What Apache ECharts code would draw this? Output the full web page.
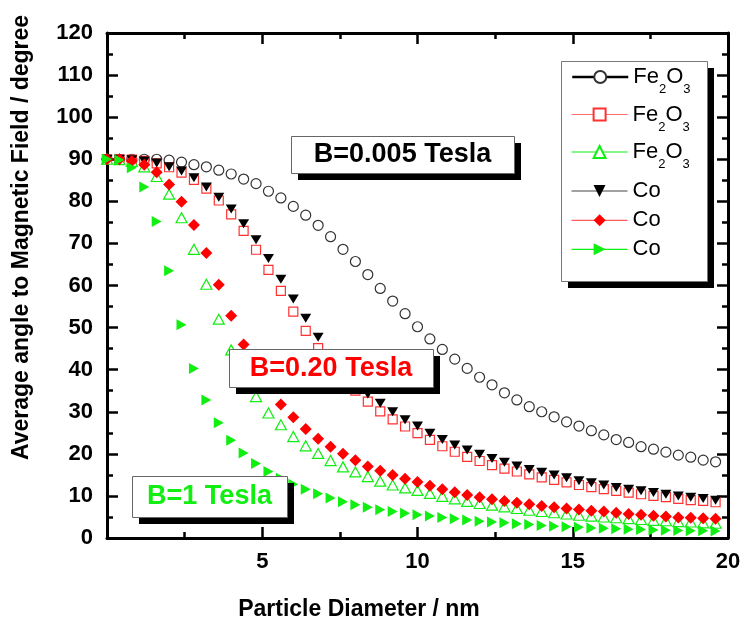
<!DOCTYPE html>
<html>
<head>
<meta charset="utf-8">
<script src="https://cdn.jsdelivr.net/npm/echarts@6/dist/echarts.min.js"></script>
<style>
html,body{margin:0;padding:0;background:#fff;}
#c{width:744px;height:624px;}
</style>
</head>
<body>
<div id="c"></div>
<script>
// ---- data ----
const diameters = [0,0.4,0.8,1.2,1.6,2,2.4,2.8,3.2,3.6,4,4.4,4.8,5.2,5.6,6,6.4,6.8,7.2,7.6,8,8.4,8.8,9.2,9.6,10,10.4,10.8,11.2,11.6,12,12.4,12.8,13.2,13.6,14,14.4,14.8,15.2,15.6,16,16.4,16.8,17.2,17.6,18,18.4,18.8,19.2,19.6];

const fe2o3_B0005 = [90,90,90,90,90,89.8,89.3,88.7,88.2,87.4,86.5,85.3,84.2,82.4,80.8,78.8,76.7,74.3,71.6,68.6,65.7,62.6,59.3,56.3,53.3,50.2,47.3,44.8,42.5,40.3,38.2,36.4,34.5,32.8,31.2,30.0,28.8,27.6,26.6,25.5,24.5,23.4,22.7,21.7,21.1,20.4,19.7,19.2,18.5,18.1];
const fe2o3_B020 = [90,90,89.9,89.6,89.0,88.1,86.8,85.1,83.0,80.2,76.9,73.0,68.5,63.7,58.7,53.8,49.2,45.1,41.3,37.9,35.0,32.4,30.1,28.2,26.5,24.9,23.3,21.8,20.5,19.3,18.3,17.3,16.5,15.8,15.1,14.4,13.8,13.2,12.6,12.1,11.6,11.2,10.8,10.4,10.0,9.7,9.3,9.0,8.8,8.5];
const fe2o3_B1 = [90,89.9,89.5,88.2,85.9,81.7,76.1,68.6,60.3,52.0,44.7,38.6,33.6,29.7,26.9,24.1,21.9,20.1,18.4,16.9,15.7,14.6,13.5,12.6,11.9,11.3,10.6,9.9,9.3,8.7,8.2,7.8,7.4,7.0,6.6,6.3,6.0,5.7,5.4,5.2,5.0,4.8,4.6,4.4,4.2,4.1,3.9,3.8,3.6,3.5];
const co_B0005 = [90,90,89.9,89.6,89.1,88.2,87.2,85.6,83.4,81.0,78.2,74.7,70.9,66.4,61.5,56.8,52.2,47.7,43.8,40.2,37.0,34.2,32.0,30.0,28.1,26.6,24.9,23.4,22.1,20.9,19.9,18.9,18.0,17.1,16.3,15.6,15.0,14.3,13.6,13.1,12.6,12.0,11.6,11.2,10.8,10.4,10.0,9.7,9.4,9.0];
const co_B020 = [90,90,89.6,88.7,86.9,84.0,79.9,74.4,67.7,60.2,52.8,46.0,40.2,35.6,31.7,28.7,25.9,23.6,21.7,20.0,18.5,17.0,16.0,15.0,14.1,13.3,12.4,11.6,10.9,10.2,9.7,9.2,8.8,8.4,8.0,7.6,7.3,7.0,6.8,6.5,6.3,6.0,5.7,5.5,5.3,5.1,4.9,4.8,4.7,4.6];
const co_B1 = [90,89.8,88.0,83.4,75.2,63.5,50.7,40.3,32.8,27.4,23.2,20.2,17.7,15.8,14.2,12.8,11.6,10.5,9.5,8.6,7.9,7.3,6.7,6.3,5.9,5.5,5.2,4.9,4.6,4.3,4.0,3.8,3.6,3.4,3.2,3.0,2.8,2.7,2.55,2.4,2.3,2.2,2.1,2.0,1.9,1.85,1.8,1.75,1.7,1.65];

const seriesNames = ['Fe2O3 B=0.005','Fe2O3 B=0.20','Fe2O3 B=1','Co B=0.005','Co B=0.20','Co B=1'];
const legendLabels = ['{m|Fe}{s|2}{m|O}{s|3}','{m|Fe}{s|2}{m|O}{s|3}','{m|Fe}{s|2}{m|O}{s|3}','{m|Co}','{m|Co}','{m|Co}'];
const xTitle = 'Particle Diameter / nm';
const yTitle = 'Average angle to Magnetic Field / degree';
const notes = ['B=0.005 Tesla','B=0.20 Tesla','B=1 Tesla'];

// ---- styling ----
const FONT = '"Liberation Sans", Arial, Helvetica, sans-serif';
const RED = '#ff0000', GREEN = '#11ee11', BLACK = '#000000';
const allY = [fe2o3_B0005, fe2o3_B020, fe2o3_B1, co_B0005, co_B020, co_B1];
const styles = [
  {symbol:'circle', size:10, item:{color:'#fff', borderColor:'#333', borderWidth:1.2}, col:'#000', legLine:{width:2.5, color:'#000'}},
  {symbol:'rect', size:9, item:{color:'#fff', borderColor:'#ff3030', borderWidth:1.2}, col:'#ff3030', legLine:{width:1.2, color:'#ff6a6a'}},
  {symbol:'triangle', size:[11,10], item:{color:'#fff', borderColor:GREEN, borderWidth:1.2}, col:GREEN, legLine:{width:1.2, color:GREEN}},
  {symbol:'path://M0,0L10,0L5,9Z', size:[11,9], item:{color:'#000', borderWidth:0}, col:'#000', legLine:{width:1, color:'#444'}},
  {symbol:'diamond', size:12, item:{color:RED, borderWidth:0}, col:RED, legLine:{width:1.2, color:'#ff5a5a'}},
  {symbol:'path://M0,0L9,5L0,10Z', size:[10,11], item:{color:GREEN, borderWidth:0}, col:GREEN, legLine:{width:1.2, color:GREEN}}
];
const legendRows = [85, 122.5, 160, 199, 228.3, 257.3];

const series = allY.map((ys, i) => ({
  name: seriesNames[i],
  type: 'line',
  data: diameters.map((x, j) => [x, ys[j]]),
  symbol: styles[i].symbol,
  symbolSize: styles[i].size,
  showSymbol: true,
  showAllSymbol: true,
  itemStyle: Object.assign({}, styles[i].item),
  lineStyle: {color: styles[i].col, opacity: 0, width: 1},
  emphasis: {disabled: true},
  z: 2 + i * 0.01,
  animation: false
}));

const legends = seriesNames.map((n, i) => ({
  data: [n],
  orient: 'vertical',
  left: 571,
  top: legendRows[i] - 19,
  padding: 0,
  itemGap: 0,
  itemWidth: 56,
  itemHeight: 15,
  selectedMode: false,
  z: 5,
  lineStyle: {width: styles[i].legLine.width, color: styles[i].legLine.color, opacity: 1},
  formatter: () => legendLabels[i],
  textStyle: {
    color: '#000',
    fontFamily: FONT,
    rich: {
      m: {fontSize: 22, fontFamily: FONT, color: '#000', lineHeight: 38},
      s: {fontSize: 13, fontFamily: FONT, color: '#000', lineHeight: 13, verticalAlign: 'bottom'}
    }
  }
}));

function noteBox(x, y, w, h, text, color, zb) {
  return [
    {type: 'rect', shape: {x: x + 7, y: y + 7, width: w, height: h}, style: {fill: '#000'}, z: zb},
    {type: 'rect', shape: {x: x + 0.5, y: y + 0.5, width: w, height: h}, style: {fill: '#fff', stroke: '#666', lineWidth: 1}, z: zb + 1},
    {type: 'text', x: x + w / 2, y: y + h / 2 + 0.5, z: zb + 2,
     style: {text: text, fill: color, font: 'bold 27px ' + FONT, align: 'center', verticalAlign: 'middle', textAlign: 'center', textVerticalAlign: 'middle'}}
  ];
}

const graphics = [].concat(
  // legend frame with hard shadow
  [{type: 'rect', shape: {x: 568, y: 68, width: 146, height: 220}, style: {fill: '#000'}, z: 1},
   {type: 'rect', shape: {x: 561.5, y: 61.5, width: 146, height: 220}, style: {fill: '#fff', stroke: '#777', lineWidth: 1}, z: 2}],
  noteBox(291, 136, 223, 37, notes[0], BLACK, 20),
  noteBox(229, 349, 204, 38, notes[1], RED, 30),
  noteBox(132, 476, 155, 41, notes[2], GREEN, 40),
  [{type: 'text', x: 22, y: 237.5, rotation: Math.PI / 2, z: 50,
    style: {text: yTitle, fill: '#000', font: 'bold 23px ' + FONT, align: 'center', verticalAlign: 'middle', textAlign: 'center', textVerticalAlign: 'middle'}},
   {type: 'text', x: 359, y: 610, z: 50,
    style: {text: xTitle, fill: '#000', font: 'bold 23px ' + FONT, align: 'center', verticalAlign: 'middle', textAlign: 'center', textVerticalAlign: 'middle'}}]
);

const axisCommon = {
  type: 'value',
  splitLine: {show: false},
  axisLine: {show: true, onZero: false, lineStyle: {color: '#000', width: 3}},
  axisTick: {show: true, inside: true, length: 11, lineStyle: {color: '#000', width: 2.5}},
  minorTick: {show: true, splitNumber: 2, length: 6, lineStyle: {color: '#000', width: 2.5}},
  minorSplitLine: {show: false}
};
const labelStyle = {fontSize: 22, fontWeight: 'bold', color: '#000', fontFamily: FONT};

const option = {
  animation: false,
  backgroundColor: '#fff',
  grid: {left: 107, right: 16, top: 33, bottom: 86, containLabel: false},
  xAxis: [
    Object.assign({}, axisCommon, {position: 'bottom', min: 0, max: 20, interval: 5,
      axisLabel: Object.assign({margin: 13, formatter: v => (v === 0 ? '' : String(v))}, labelStyle)}),
    Object.assign({}, axisCommon, {position: 'top', min: 0, max: 20, interval: 5, axisLabel: {show: false}})
  ],
  yAxis: [
    Object.assign({}, axisCommon, {position: 'left', min: 0, max: 120, interval: 10,
      axisLabel: Object.assign({margin: 14}, labelStyle)}),
    Object.assign({}, axisCommon, {position: 'right', min: 0, max: 120, interval: 10, axisLabel: {show: false}})
  ],
  legend: legends,
  series: series,
  graphic: graphics
};

const chart = echarts.init(document.getElementById('c'), null, {renderer: 'canvas'});
chart.setOption(option);
</script>
</body>
</html>
